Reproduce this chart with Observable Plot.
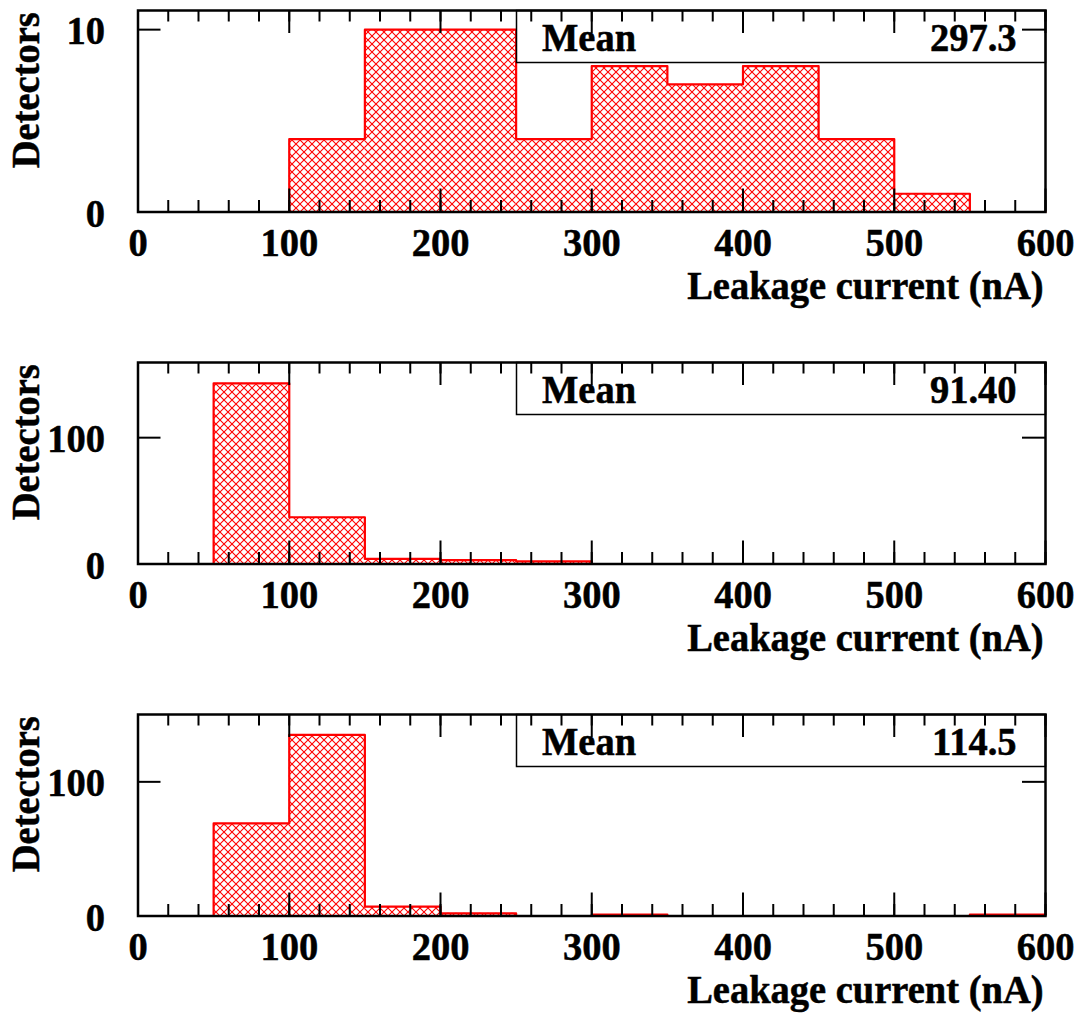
<!DOCTYPE html>
<html><head><meta charset="utf-8">
<script src="https://cdn.jsdelivr.net/npm/d3@7"></script>
<script src="https://cdn.jsdelivr.net/npm/@observablehq/plot@0.6"></script>
<style>
body{margin:0;background:#fff;width:1079px;height:1014px;position:relative;overflow:hidden}
.panel{position:absolute;left:0}
</style></head><body>
<div id="p0" class="panel" style="top:0px"></div>
<div id="p1" class="panel" style="top:352px"></div>
<div id="p2" class="panel" style="top:704px"></div>
<script>
// ---- data ----
const binLow  = [0, 50, 100, 150, 200, 250, 300, 350, 400, 450, 500, 550];
const binHigh = [50, 100, 150, 200, 250, 300, 350, 400, 450, 500, 550, 600];
const counts1 = [0, 0, 4, 10, 10, 4, 8, 7, 8, 4, 1, 0];
const counts2 = [0, 143, 37, 4, 3, 2, 0, 0, 0, 0, 0, 0];
const counts3 = [0, 69, 135, 7, 2, 0, 1, 0, 0, 0, 0, 1];
const meanValues = ["297.3", "91.40", "114.5"];
const yMaxes = [11.05, 159.5, 150.2];
const yTickValues = [[0, 10], [0, 100], [0, 100]];
const xTickValues = [0, 100, 200, 300, 400, 500, 600];
const xMinorTicks = d3.range(0, 601, 20);
const xTitle = "Leakage current (nA)";
const yTitle = "Detectors";
const statName = "Mean";

// ---- layout ----
const W = 1079, mL = 137.5, mR = 34, mT = 10, frameH = 201.5, mB = 98;
const H = mT + frameH + mB;
const frameW = W - mL - mR;
const font = "'Liberation Serif', 'Times New Roman', Times, serif";
const FS = 38.5;
const RED = "#ff0000";

const allCounts = [counts1, counts2, counts3];

allCounts.forEach((counts, i) => {
  const bins = binLow.map((lo, k) => ({lo, hi: binHigh[k], v: counts[k]}));
  const outline = bins.flatMap(b => [{x: b.lo, y: b.v}, {x: b.hi, y: b.v}]);
  const pid = "hatch" + i;
  const textOpts = {fontSize: FS, fontWeight: "bold", fontFamily: font, fill: "black", stroke: "black", strokeWidth: 0.5, lineAnchor: "middle"};

  const plot = Plot.plot({
    width: W, height: H,
    marginLeft: mL, marginRight: mR, marginTop: mT, marginBottom: mB,
    style: {fontFamily: font, background: "white", overflow: "visible"},
    x: {domain: [0, 600], axis: null},
    y: {domain: [0, yMaxes[i]], axis: null},
    marks: [
      Plot.rectY(bins, {x1: "lo", x2: "hi", y: "v", fill: `url(#${pid})`}),
      Plot.line(outline, {x: "x", y: "y", stroke: RED, strokeWidth: 2.2}),
      // stats box
      Plot.frame({fill: "white", stroke: "black", strokeWidth: 1.5, insetLeft: 378.5, insetBottom: frameH - 52}),
      Plot.text([statName], {text: d => d, frameAnchor: "top-left", textAnchor: "start", dx: 404, dy: 27, ...textOpts}),
      Plot.text([meanValues[i]], {text: d => d, frameAnchor: "top-right", textAnchor: "end", dx: -29, dy: 27, ...textOpts}),
      // x ticks bottom & top
      Plot.tickX(xTickValues, {x: d => d, insetTop: frameH - 23, stroke: "black", strokeWidth: 2}),
      Plot.tickX(xTickValues, {x: d => d, insetBottom: frameH - 23, stroke: "black", strokeWidth: 2}),
      Plot.tickX(xMinorTicks, {x: d => d, insetTop: frameH - 11.5, stroke: "black", strokeWidth: 2}),
      Plot.tickX(xMinorTicks, {x: d => d, insetBottom: frameH - 11.5, stroke: "black", strokeWidth: 2}),
      // y ticks left & right
      Plot.tickY(yTickValues[i], {y: d => d, insetRight: frameW - 23, stroke: "black", strokeWidth: 2}),
      Plot.tickY(yTickValues[i], {y: d => d, insetLeft: frameW - 23, stroke: "black", strokeWidth: 2}),
      Plot.frame({stroke: "black", strokeWidth: 2.5}),
      // tick labels
      Plot.text(xTickValues, {x: d => d, text: d => String(d), frameAnchor: "bottom", textAnchor: "middle", dy: 30.5, ...textOpts}),
      Plot.text(yTickValues[i], {y: d => d, text: d => String(d), frameAnchor: "left", textAnchor: "end", dx: -33, dy: 1.5, ...textOpts}),
      // axis titles
      Plot.text([xTitle], {text: d => d, frameAnchor: "bottom-right", textAnchor: "end", dx: -2, dy: 74, ...textOpts}),
      Plot.text([yTitle], {text: d => d, frameAnchor: "top-left", textAnchor: "end", rotate: -90, dx: -112.5, dy: 1.7, ...textOpts})
    ]
  });

  const svg = d3.select(plot);
  // slight vertical glyph stretch to match the reference's taller lettering
  svg.selectAll("text").each(function() {
    const t = this.getAttribute("transform");
    if (t) {
      this.setAttribute("transform", t + " scale(1,1.06)");
    } else {
      const x = +(this.getAttribute("x") || 0), y = +(this.getAttribute("y") || 0);
      this.setAttribute("transform", `translate(${x},${y}) scale(1,1.06) translate(${-x},${-y})`);
    }
  });
  const defs = svg.insert("defs", ":first-child");
  const pat = defs.append("pattern")
    .attr("id", pid).attr("patternUnits", "userSpaceOnUse")
    .attr("width", 8).attr("height", 8);
  pat.append("path")
    .attr("d", "M-1,-1L9,9M-1,9L9,-1")
    .attr("stroke", RED).attr("stroke-width", 1.1).attr("fill", "none");
  document.getElementById("p" + i).appendChild(plot);
});
</script>
</body></html>
